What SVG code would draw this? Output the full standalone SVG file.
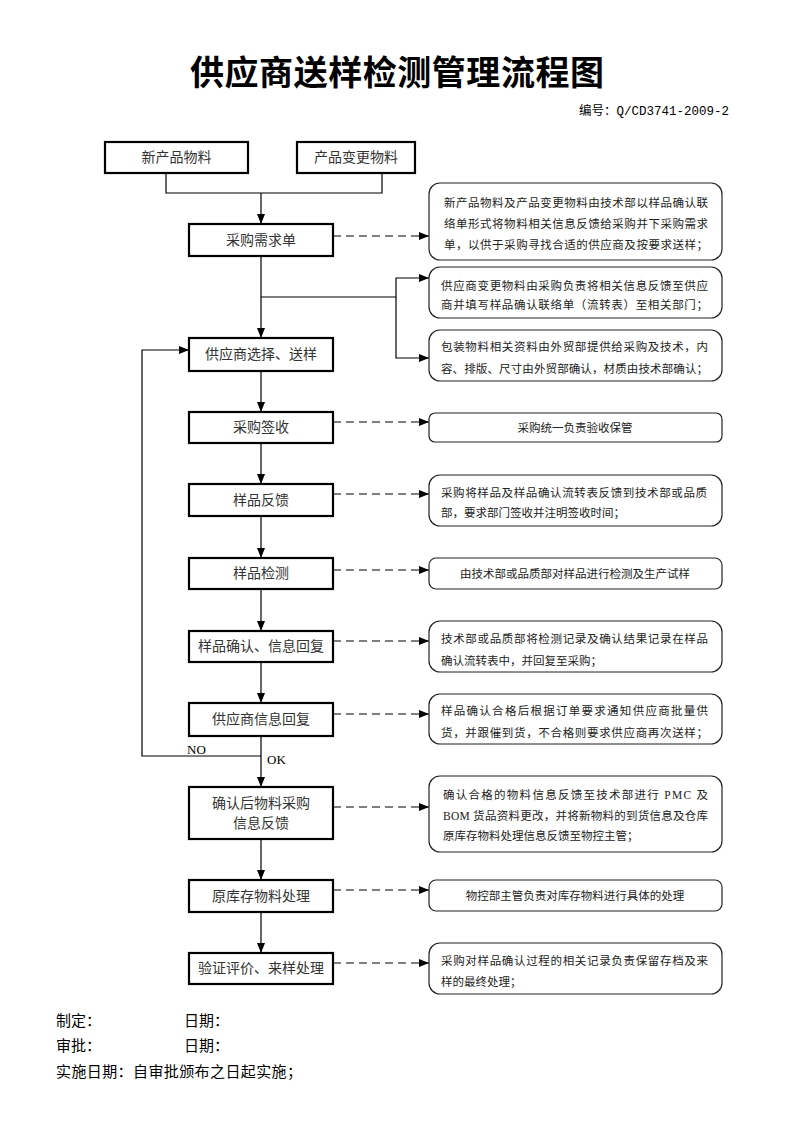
<svg xmlns="http://www.w3.org/2000/svg" width="793" height="1122" viewBox="0 0 793 1122">
<style>
.box{fill:#fff;stroke:#000;stroke-width:2.2}
.note{fill:#fff;stroke:#222;stroke-width:1.2}
.bt{font-family:"Liberation Serif","Noto Sans CJK SC",serif;font-size:14px;fill:#333;text-anchor:middle;dominant-baseline:central}
.nt{font-family:"Liberation Serif","Noto Sans CJK SC",serif;font-size:11.5px;fill:#222;dominant-baseline:central}
.ntc{font-family:"Liberation Serif","Noto Sans CJK SC",serif;font-size:11.5px;fill:#222;text-anchor:middle;dominant-baseline:central}
.ln{fill:none;stroke:#000;stroke-width:1.2}
.dash{fill:none;stroke:#000;stroke-width:1.2;stroke-dasharray:8 5}
.ft{font-family:"Liberation Serif","Noto Sans CJK SC",serif;font-size:15px;fill:#000;dominant-baseline:central}
</style>
<defs>
<marker id="ah" viewBox="0 0 10 10" refX="10" refY="5" markerWidth="10" markerHeight="10" markerUnits="userSpaceOnUse" orient="auto">
<path d="M0,1 L10,5 L0,9 z" fill="#000"/>
</marker>
</defs>
<rect width="793" height="1122" fill="#fff"/>
<text x="397" y="70" font-family="Noto Sans CJK SC,sans-serif" font-size="34" font-weight="700" text-anchor="middle" dominant-baseline="central" textLength="414" lengthAdjust="spacing">供应商送样检测管理流程图</text>
<text x="729" y="112" font-family="Liberation Mono,Noto Sans CJK SC,monospace" font-size="12.5" text-anchor="end" dominant-baseline="central">编号：Q/CD3741-2009-2</text>

<g id="connectors">
<path class="ln" d="M166,173 V193 H382 V173"/>
<path class="ln" d="M261,193 V224" marker-end="url(#ah)"/>
<path class="ln" d="M261,256 V338" marker-end="url(#ah)"/>
<path class="ln" d="M261,297 H396 V278 H429" marker-end="url(#ah)"/>
<path class="ln" d="M396,297 V358 H429" marker-end="url(#ah)"/>
<path class="ln" d="M261,371 V412" marker-end="url(#ah)"/>
<path class="ln" d="M261,443 V484" marker-end="url(#ah)"/>
<path class="ln" d="M261,516 V558" marker-end="url(#ah)"/>
<path class="ln" d="M261,589 V631" marker-end="url(#ah)"/>
<path class="ln" d="M261,662 V703" marker-end="url(#ah)"/>
<path class="ln" d="M261,736 V787" marker-end="url(#ah)"/>
<path class="ln" d="M261,839 V880" marker-end="url(#ah)"/>
<path class="ln" d="M261,912 V953" marker-end="url(#ah)"/>
<path class="ln" d="M261,756 H142 V350 H189" marker-end="url(#ah)"/>
<path class="dash" d="M333,236 H429" marker-end="url(#ah)"/>
<path class="dash" d="M333,422 H429" marker-end="url(#ah)"/>
<path class="dash" d="M333,494 H429" marker-end="url(#ah)"/>
<path class="dash" d="M333,570 H429" marker-end="url(#ah)"/>
<path class="dash" d="M333,641 H429" marker-end="url(#ah)"/>
<path class="dash" d="M333,714 H429" marker-end="url(#ah)"/>
<path class="dash" d="M333,807 H429" marker-end="url(#ah)"/>
<path class="dash" d="M333,890 H429" marker-end="url(#ah)"/>
<path class="dash" d="M333,963 H429" marker-end="url(#ah)"/>
<text x="187" y="749" font-family="Liberation Serif,serif" font-size="13" dominant-baseline="central">NO</text>
<text x="267" y="759" font-family="Liberation Serif,serif" font-size="13" dominant-baseline="central">OK</text>
</g>

<g id="n_new"><rect class="box" x="105" y="142" width="143" height="31"/><text class="bt" x="176.5" y="157.5">新产品物料</text></g>
<g id="n_change"><rect class="box" x="297" y="142" width="118" height="31"/><text class="bt" x="356" y="157.5">产品变更物料</text></g>
<g id="n_req"><rect class="box" x="189" y="224" width="144" height="32"/><text class="bt" x="261" y="240">采购需求单</text></g>
<g id="n_sel"><rect class="box" x="189" y="338" width="144" height="33"/><text class="bt" x="261" y="354.5">供应商选择、送样</text></g>
<g id="n_recv"><rect class="box" x="189" y="412" width="144" height="31"/><text class="bt" x="261" y="427.5">采购签收</text></g>
<g id="n_fb"><rect class="box" x="189" y="484" width="144" height="32"/><text class="bt" x="261" y="500">样品反馈</text></g>
<g id="n_test"><rect class="box" x="189" y="558" width="144" height="31"/><text class="bt" x="261" y="573.5">样品检测</text></g>
<g id="n_conf"><rect class="box" x="189" y="631" width="144" height="31"/><text class="bt" x="261" y="646.5">样品确认、信息回复</text></g>
<g id="n_sup"><rect class="box" x="189" y="703" width="144" height="33"/><text class="bt" x="261" y="719.5">供应商信息回复</text></g>
<g id="n_info"><rect class="box" x="189" y="787" width="144" height="52"/><text class="bt" x="261" y="803">确认后物料采购</text><text class="bt" x="261" y="823">信息反馈</text></g>
<g id="n_stock"><rect class="box" x="189" y="880" width="144" height="32"/><text class="bt" x="261" y="896">原库存物料处理</text></g>
<g id="n_verify"><rect class="box" x="189" y="953" width="144" height="31"/><text class="bt" x="261" y="968.5">验证评价、来样处理</text></g>

<g id="note1"><rect class="note" x="429" y="183" width="293" height="77" rx="11"/>
<text class="nt" x="444" y="203" textLength="264" lengthAdjust="spacing">新产品物料及产品变更物料由技术部以样品确认联</text>
<text class="nt" x="444" y="224" textLength="264" lengthAdjust="spacing">络单形式将物料相关信息反馈给采购并下采购需求</text>
<text class="nt" x="444" y="245" textLength="264" lengthAdjust="spacing">单，以供于采购寻找合适的供应商及按要求送样；</text></g>
<g id="note2"><rect class="note" x="429" y="267" width="293" height="51" rx="11"/>
<text class="nt" x="441" y="286" textLength="267" lengthAdjust="spacing">供应商变更物料由采购负责将相关信息反馈至供应</text>
<text class="nt" x="441" y="305" textLength="267" lengthAdjust="spacing">商并填写样品确认联络单（流转表）至相关部门；</text></g>
<g id="note3"><rect class="note" x="429" y="330" width="293" height="51" rx="11"/>
<text class="nt" x="441" y="347" textLength="267" lengthAdjust="spacing">包装物料相关资料由外贸部提供给采购及技术，内</text>
<text class="nt" x="441" y="369" textLength="267" lengthAdjust="spacing">容、排版、尺寸由外贸部确认，材质由技术部确认；</text></g>
<g id="note4"><rect class="note" x="429" y="413" width="293" height="29" rx="6"/>
<text class="ntc" x="575" y="428">采购统一负责验收保管</text></g>
<g id="note5"><rect class="note" x="429" y="475" width="293" height="51" rx="11"/>
<text class="nt" x="441" y="493" textLength="266" lengthAdjust="spacing">采购将样品及样品确认流转表反馈到技术部或品质</text>
<text class="nt" x="441" y="513">部，要求部门签收并注明签收时间；</text></g>
<g id="note6"><rect class="note" x="429" y="558" width="293" height="31" rx="7"/>
<text class="ntc" x="575" y="574">由技术部或品质部对样品进行检测及生产试样</text></g>
<g id="note7"><rect class="note" x="429" y="621" width="293" height="51" rx="11"/>
<text class="nt" x="441" y="639" textLength="267" lengthAdjust="spacing">技术部或品质部将检测记录及确认结果记录在样品</text>
<text class="nt" x="441" y="661">确认流转表中，并回复至采购；</text></g>
<g id="note8"><rect class="note" x="429" y="694" width="293" height="50" rx="11"/>
<text class="nt" x="441" y="711" textLength="267" lengthAdjust="spacing">样品确认合格后根据订单要求通知供应商批量供</text>
<text class="nt" x="441" y="733" textLength="267" lengthAdjust="spacing">货，并跟催到货，不合格则要求供应商再次送样；</text></g>
<g id="note9"><rect class="note" x="429" y="776" width="293" height="76" rx="11"/>
<text class="nt" x="443" y="795" textLength="265" lengthAdjust="spacing">确认合格的物料信息反馈至技术部进行 PMC 及</text>
<text class="nt" x="443" y="816" textLength="265" lengthAdjust="spacing">BOM 货品资料更改，并将新物料的到货信息及仓库</text>
<text class="nt" x="443" y="836">原库存物料处理信息反馈至物控主管；</text></g>
<g id="note10"><rect class="note" x="429" y="880" width="293" height="31" rx="7"/>
<text class="ntc" x="575" y="896">物控部主管负责对库存物料进行具体的处理</text></g>
<g id="note11"><rect class="note" x="429" y="943" width="293" height="51" rx="11"/>
<text class="nt" x="441" y="961" textLength="267" lengthAdjust="spacing">采购对样品确认过程的相关记录负责保留存档及来</text>
<text class="nt" x="441" y="982">样的最终处理；</text></g>

<text class="ft" x="56" y="1021">制定：</text>
<text class="ft" x="184" y="1021">日期：</text>
<text class="ft" x="56" y="1046">审批：</text>
<text class="ft" x="184" y="1046">日期：</text>
<text class="ft" x="56" y="1072" textLength="246" lengthAdjust="spacing">实施日期：自审批颁布之日起实施；</text>
</svg>
